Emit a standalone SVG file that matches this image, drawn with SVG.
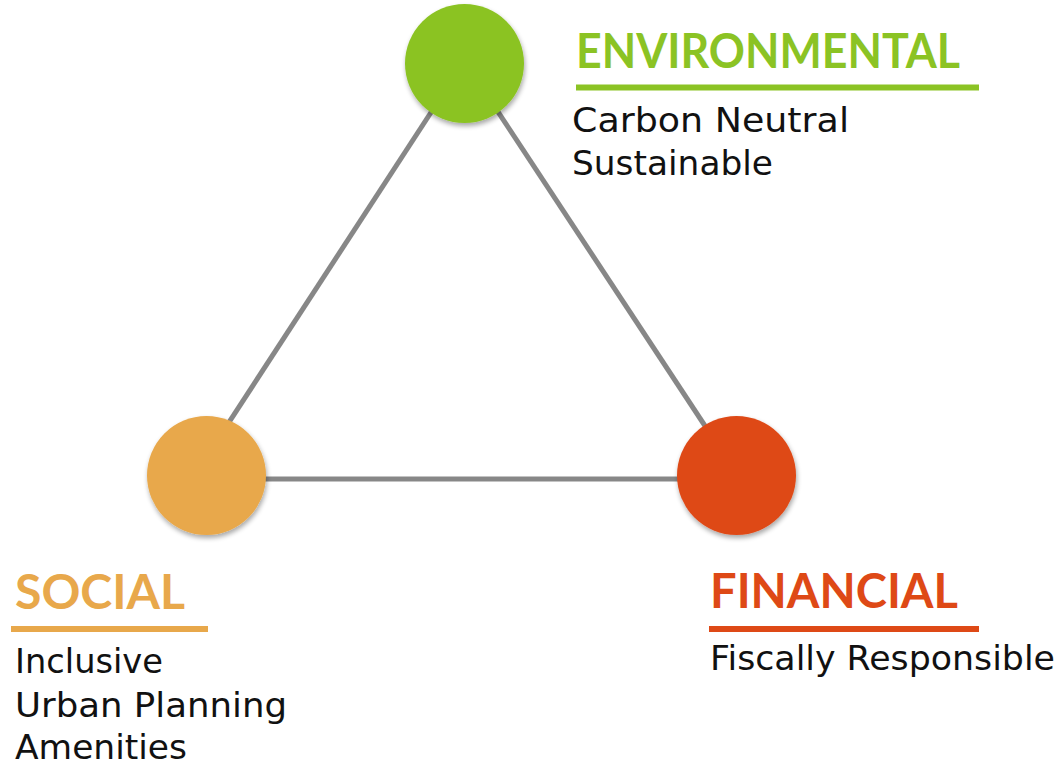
<svg xmlns="http://www.w3.org/2000/svg" width="1061" height="765" viewBox="0 0 1061 765">
<style>
.edge{stroke:#878787;stroke-width:5;fill:none;stroke-linecap:butt}
.head{font-family:Lato,"DejaVu Sans","Liberation Sans",sans-serif;font-weight:bold;font-size:47px}
.body{font-family:"DejaVu Sans","Liberation Sans",sans-serif;font-size:34px;fill:#111}
</style>
<defs>
<filter id="sh" x="-20%" y="-20%" width="150%" height="150%">
<feGaussianBlur in="SourceAlpha" stdDeviation="2.5"/>
<feOffset dx="1" dy="3" result="b"/>
<feComponentTransfer><feFuncA type="linear" slope="0.35"/></feComponentTransfer>
<feMerge><feMergeNode/><feMergeNode in="SourceGraphic"/></feMerge>
</filter>
</defs>
<rect width="1061" height="765" fill="#fff"/>
<g id="connectors">
<line class="edge" x1="464.5" y1="61" x2="192" y2="479"/>
<line class="edge" x1="464.5" y1="61" x2="740" y2="479"/>
<line class="edge" x1="200" y1="479" x2="736" y2="479"/>
</g>
<g id="environmental">
<circle cx="464.5" cy="63.5" r="59.5" fill="#8BC324" filter="url(#sh)"/>
<text class="head" x="576" y="67.5" fill="#8BC324" textLength="384" lengthAdjust="spacingAndGlyphs">ENVIRONMENTAL</text>
<rect x="576" y="84.5" width="403" height="6" fill="#8BC324"/>
<text class="body" x="572" y="132" textLength="277" lengthAdjust="spacingAndGlyphs">Carbon Neutral</text>
<text class="body" x="572" y="175" textLength="201" lengthAdjust="spacingAndGlyphs">Sustainable</text>
</g>
<g id="social">
<circle cx="206.5" cy="475.5" r="59.5" fill="#E8A84B" filter="url(#sh)"/>
<text class="head" x="15" y="609" fill="#E8A84B" textLength="170" lengthAdjust="spacingAndGlyphs">SOCIAL</text>
<rect x="11" y="626" width="197" height="6" fill="#E8A84B"/>
<text class="body" x="15" y="673" textLength="148" lengthAdjust="spacingAndGlyphs">Inclusive</text>
<text class="body" x="15" y="717" textLength="272" lengthAdjust="spacingAndGlyphs">Urban Planning</text>
<text class="body" x="15" y="759" textLength="172" lengthAdjust="spacingAndGlyphs">Amenities</text>
</g>
<g id="financial">
<circle cx="736.5" cy="475.5" r="59.5" fill="#DE4916" filter="url(#sh)"/>
<text class="head" x="710" y="608" fill="#DE4916" textLength="248" lengthAdjust="spacingAndGlyphs">FINANCIAL</text>
<rect x="709" y="626" width="270" height="6" fill="#DE4916"/>
<text class="body" x="710" y="670" textLength="345" lengthAdjust="spacingAndGlyphs">Fiscally Responsible</text>
</g>
</svg>
